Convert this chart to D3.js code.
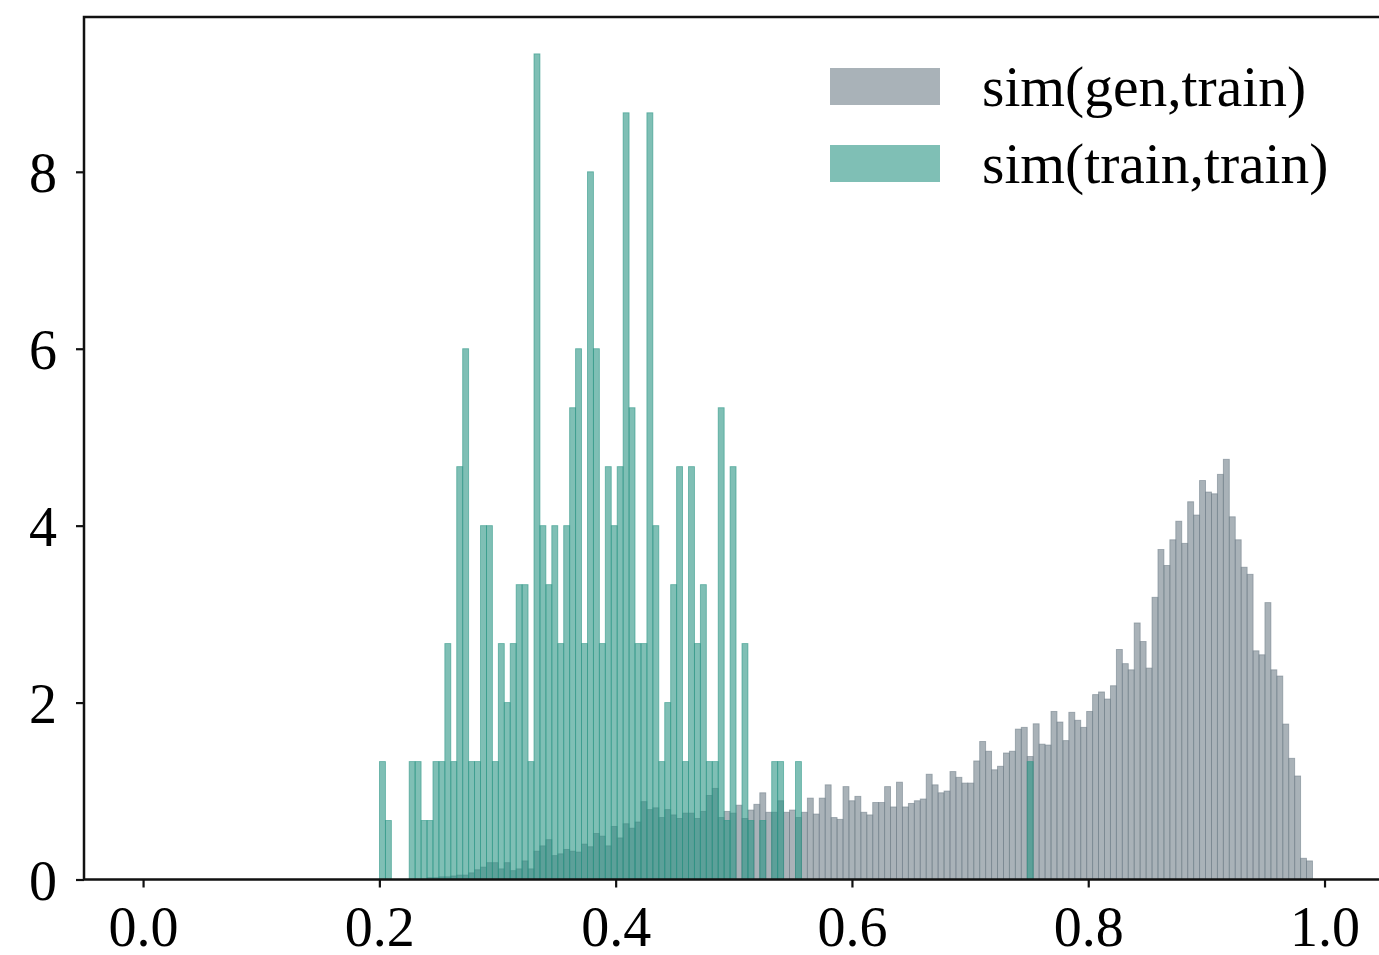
<!DOCTYPE html>
<html>
<head>
<meta charset="utf-8">
<script src="https://cdn.jsdelivr.net/npm/d3@7"></script>
<style>
  html, body { margin: 0; padding: 0; background: #fff; }
  svg { display: block; }
</style>
</head>
<body>
<svg id="chart" width="1379" height="955"></svg>
<script>
// ---- data ----
const seriesNames = ["sim(gen,train)", "sim(train,train)"];
const binStart = 0.2001;      // left edge of first bin
const binWidth = 0.00503;     // shared bin width
const grayFirstBin = 8;       // index of the first gray bin on the shared grid
const xTicks = [0.0, 0.2, 0.4, 0.6, 0.8, 1.0];
const yTicks = [0, 2, 4, 6, 8];

// sim(train,train) densities, bins 0..109
const tealValues = [
  1.333, 0.667, 0, 0, 0, 1.333, 1.333, 0.667, 0.667, 1.333,
  1.333, 2.667, 1.333, 4.667, 6.0, 1.333, 1.333, 4.0, 4.0, 1.333,
  2.667, 2.0, 2.667, 3.333, 3.333, 1.333, 9.333, 4.0, 3.333, 4.0,
  2.667, 4.0, 5.333, 6.0, 2.667, 8.0, 6.0, 2.667, 4.667, 4.0,
  4.667, 8.667, 5.333, 2.667, 2.667, 8.667, 4.0, 1.333, 2.0, 3.333,
  4.667, 1.333, 4.667, 2.667, 3.333, 1.333, 1.333, 5.333, 0.667, 4.667,
  0, 2.667, 0.667, 0, 0.667, 0, 1.333, 1.333, 0, 0,
  1.333, 0, 0, 0, 0, 0, 0, 0, 0, 0,
  0, 0, 0, 0, 0, 0, 0, 0, 0, 0,
  0, 0, 0, 0, 0, 0, 0, 0, 0, 0,
  0, 0, 0, 0, 0, 0, 0, 0, 0, 1.333
];

// sim(gen,train) densities, bins 8..156
const grayValues = [
  0.02, 0.02, 0.03, 0.03, 0.04, 0.05, 0.05, 0.075, 0.11, 0.14,
  0.19, 0.19, 0.12, 0.19, 0.10, 0.12, 0.21, 0.12, 0.32, 0.38,
  0.45, 0.27, 0.29, 0.34, 0.32, 0.31, 0.40, 0.37, 0.52, 0.49,
  0.38, 0.60, 0.47, 0.63, 0.58, 0.65, 0.88, 0.79, 0.81, 0.70,
  0.79, 0.73, 0.69, 0.75, 0.75, 0.69, 0.77, 0.95, 1.03, 0.70,
  0.77, 0.75, 0.84, 0.69, 0.785, 0.85, 0.98, 0.76, 0.76, 0.89,
  0.76, 0.785, 0.70, 0.76, 0.92, 0.74, 0.92, 1.07, 0.70, 0.68,
  1.05, 0.89, 0.94, 0.76, 0.73, 0.87, 0.87, 1.05, 0.82, 1.10,
  0.82, 0.86, 0.89, 0.91, 1.19, 1.07, 0.98, 1.00, 1.22, 1.155,
  1.09, 1.09, 1.34, 1.56, 1.45, 1.24, 1.28, 1.43, 1.45, 1.70,
  1.72, 1.39, 1.76, 1.53, 1.52, 1.90, 1.78, 1.57, 1.89, 1.80,
  1.72, 1.90, 2.09, 2.12, 2.04, 2.19, 2.60, 2.44, 2.37, 2.90,
  2.69, 2.39, 3.19, 3.73, 3.55, 3.84, 4.05, 3.80, 4.27, 4.12,
  4.51, 4.38, 4.36, 4.58, 4.75, 4.10, 3.84, 3.53, 3.45, 2.585,
  2.54, 3.13, 2.37, 2.30, 1.757, 1.37, 1.17, 0.24, 0.21
];

// ---- drawing ----
const svg = d3.select("#chart");
const FONT = "'Liberation Serif', 'Times New Roman', serif";
const grayColor = "#707f89";
const tealColor = "#2a9484";
const alpha = 0.6;

const mLeft = 84, mRight = 1383.6, mTop = 17, mBottom = 879.5;
const x = d3.scaleLinear().domain([-0.05, 1.05]).range([mLeft, mRight]);
const y = d3.scaleLinear().domain([0, 9.75]).range([mBottom, mTop]);

function binsFrom(values, offset) {
  return values.map((v, i) => ({
    x0: binStart + (offset + i) * binWidth,
    x1: binStart + (offset + i + 1) * binWidth,
    v: v
  })).filter(d => d.v > 0);
}

const plot = svg.append("g");

function drawBars(data, color, cls) {
  plot.append("g").attr("class", cls)
    .selectAll("rect").data(data).join("rect")
    .attr("x", d => x(d.x0))
    .attr("width", d => x(d.x1) - x(d.x0))
    .attr("y", d => y(d.v))
    .attr("height", d => y(0) - y(d.v))
    .attr("fill", color)
    .attr("fill-opacity", alpha)
    .attr("stroke", color)
    .attr("stroke-opacity", alpha)
    .attr("stroke-width", 0.9);
}

drawBars(binsFrom(grayValues, grayFirstBin), grayColor, "gray");
drawBars(binsFrom(tealValues, 0), tealColor, "teal");

// axes
const xAxis = d3.axisBottom(x).tickValues(xTicks).tickFormat(d3.format(".1f"))
  .tickSize(8).tickPadding(19);
const gx = svg.append("g").attr("transform", `translate(0,${mBottom})`).call(xAxis);
gx.select(".domain").remove();
gx.selectAll(".tick line").attr("stroke", "#111").attr("stroke-width", 2.2);
gx.selectAll(".tick text").attr("font-family", FONT).attr("font-size", 56).attr("fill", "#000");

const yAxis = d3.axisLeft(y).tickValues(yTicks).tickFormat(d3.format("d"))
  .tickSize(8).tickPadding(19);
const gy = svg.append("g").attr("transform", `translate(${mLeft},0)`).call(yAxis);
gy.select(".domain").remove();
gy.selectAll(".tick line").attr("stroke", "#111").attr("stroke-width", 2.2);
gy.selectAll(".tick text").attr("font-family", FONT).attr("font-size", 56).attr("fill", "#000")
  .attr("dy", "0.35em");

// frame
svg.append("rect")
  .attr("x", mLeft).attr("y", mTop)
  .attr("width", mRight - mLeft).attr("height", mBottom - mTop)
  .attr("fill", "none").attr("stroke", "#111").attr("stroke-width", 2.5);

// legend
const legend = svg.append("g");
const legendColors = [grayColor, tealColor];
const legendRows = [86.5, 163.5];
seriesNames.forEach((name, i) => {
  legend.append("rect")
    .attr("x", 830).attr("y", legendRows[i] - 18.5)
    .attr("width", 110).attr("height", 37)
    .attr("fill", legendColors[i]).attr("fill-opacity", alpha);
  legend.append("text")
    .attr("x", 982).attr("y", legendRows[i] + 19)
    .attr("font-family", FONT).attr("font-size", 57.5).attr("fill", "#000")
    .text(name);
});
</script>
</body>
</html>
